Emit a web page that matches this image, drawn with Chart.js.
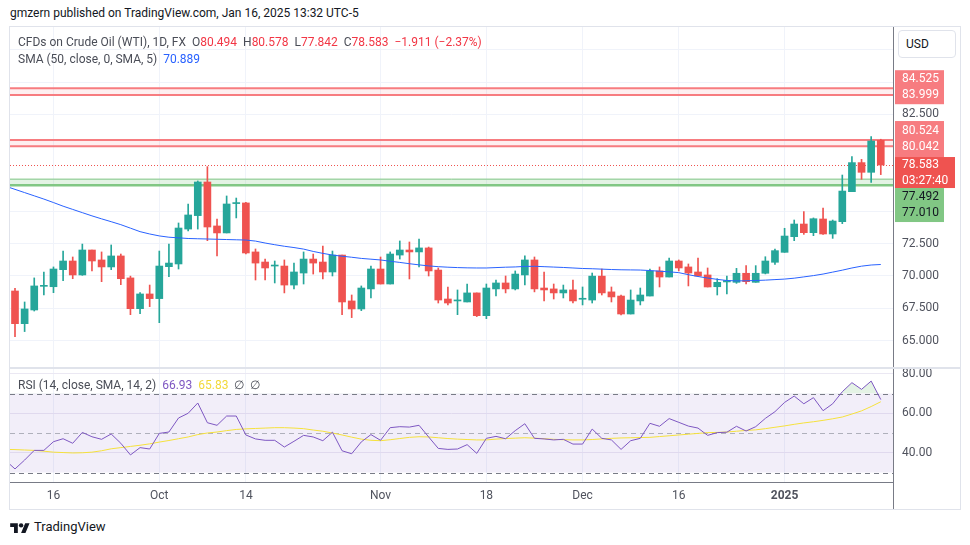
<!DOCTYPE html>
<html>
<head>
<meta charset="utf-8">
<script src="https://cdn.jsdelivr.net/npm/chart.js@4.4.1/dist/chart.umd.min.js"></script>
<style>
  body { margin:0; width:970px; height:545px; background:#fff; position:relative; overflow:hidden;
         font-family: Roboto, "Noto Sans", sans-serif; color:#131722; }
  .abs { position:absolute; white-space:pre; }
  #title { left:10px; top:6px; font-size:12px; line-height:14px; color:#131722; }
  #frame { left:9px; top:26px; width:950px; height:482px; border:1px solid #e0e3eb; }
  #sep { left:10px; top:367px; width:950px; height:2px; background:#e0e3eb; }
  #axisTail { left:893px; top:482px; width:1px; height:27px; background:#787b86; }
  canvas { position:absolute; left:10px; }
  #price { top:27px; }
  #rsi { top:367px; }
  .leg { font-size:12px; line-height:14px; color:#4a4d57; z-index:2; }
  .red { color:#f23645; } .blue { color:#2962ff; } .purple { color:#7e57c2; } .yellow { color:#f2d93a; }
  #usd { left:898px; top:30px; width:56px; height:26px; border:1px solid #e0e3eb; border-radius:4px;
         font-size:12px; line-height:26px; text-indent:7px; color:#131722; background:#fff; z-index:2; }
  #logo { left:10px; top:519px; font-size:13px; line-height:16px; color:#131722; display:flex; align-items:center; }
</style>
</head>
<body>
<div class="abs" id="title">gmzern published on TradingView.com, Jan 16, 2025 13:32 UTC-5</div>
<div class="abs" id="frame"></div>
<canvas id="price" width="950" height="340"></canvas>
<canvas id="rsi" width="950" height="142"></canvas>
<div class="abs" id="sep"></div>
<div class="abs" id="axisTail"></div>
<div class="abs leg" style="left:18px;top:35px">CFDs on Crude Oil (WTI), 1D, FX  O<span class="red">80.494</span>  H<span class="red">80.578</span>  L<span class="red">77.842</span>  C<span class="red">78.583</span>  <span class="red">−1.911 (−2.37%)</span></div>
<div class="abs leg" style="left:18px;top:52px">SMA (50, close, 0, SMA, 5)  <span class="blue">70.889</span></div>
<div class="abs leg" style="left:18px;top:378px">RSI (14, close, SMA, 14, 2)  <span class="purple">66.93</span>  <span class="yellow">65.83</span>  ∅  ∅</div>
<div class="abs" id="usd">USD</div>
<div class="abs" id="logo"><svg width="20" height="12" viewBox="0 0 36 22"><path d="M14 22H7V11H0V4h14v18zM28 22h-8l7.5-18h8L28 22z" fill="#131722"/><circle cx="20" cy="8" r="4" fill="#131722"/></svg><span style="margin-left:4px">TradingView</span></div>

<script>
// daily bars, Sep 9 2024 .. Jan 16 2025 (Sep 9 sits just left of the visible range)
const dates = [
  'Sep 9',
  'Sep 10','Sep 11','Sep 12','Sep 13','Sep 16','Sep 17','Sep 18','Sep 19','Sep 20','Sep 23',
  'Sep 24','Sep 25','Sep 26','Sep 27','Sep 30','Oct 1','Oct 2','Oct 3','Oct 4','Oct 7',
  'Oct 8','Oct 9','Oct 10','Oct 11','Oct 14','Oct 15','Oct 16','Oct 17','Oct 18','Oct 21',
  'Oct 22','Oct 23','Oct 24','Oct 25','Oct 28','Oct 29','Oct 30','Oct 31','Nov 1','Nov 4',
  'Nov 5','Nov 6','Nov 7','Nov 8','Nov 11','Nov 12','Nov 13','Nov 14','Nov 15','Nov 18',
  'Nov 19','Nov 20','Nov 21','Nov 22','Nov 25','Nov 26','Nov 27','Nov 28','Nov 29','Dec 2',
  'Dec 3','Dec 4','Dec 5','Dec 6','Dec 9','Dec 10','Dec 11','Dec 12','Dec 13','Dec 16',
  'Dec 17','Dec 18','Dec 19','Dec 20','Dec 23','Dec 24','Dec 26','Dec 27','Dec 30','Dec 31',
  'Jan 2','Jan 3','Jan 6','Jan 7','Jan 8','Jan 9','Jan 10','Jan 13','Jan 14','Jan 15','Jan 16'
];
const openP = [
  67.70,
  68.84,66.31,67.37,69.20,69.17,70.49,71.16,70.08,72.01,71.24,
  70.70,71.55,69.85,67.47,68.61,68.25,70.72,70.93,73.63,74.67,
  77.27,73.87,73.33,75.60,75.65,71.86,71.08,70.77,70.77,69.30,
  70.23,71.31,71.08,70.31,71.62,68.07,67.45,69.00,70.54,69.38,
  71.62,72.01,71.86,72.17,70.46,68.22,68.07,67.99,68.69,66.93,
  69.00,69.46,69.00,70.08,71.24,69.07,69.00,68.69,68.92,68.20,
  68.14,69.99,68.77,68.45,67.06,68.07,68.45,70.39,69.92,71.16,
  70.70,70.31,70.08,69.17,69.54,69.51,70.21,69.51,70.21,71.06,
  71.83,73.04,74.02,73.35,74.41,73.25,74.20,76.52,78.77,78.02,80.494
];
const highP = [
  69.00,
  69.05,67.99,69.85,70.31,70.70,71.93,71.47,72.47,72.01,71.86,
  72.40,71.70,69.99,68.71,69.30,71.93,72.47,74.10,75.57,77.35,
  78.46,74.41,76.19,76.03,75.70,72.09,71.31,71.16,71.24,71.00,
  71.86,71.70,72.32,71.93,71.62,68.53,69.23,70.77,71.47,71.86,
  72.71,72.63,72.86,72.24,70.62,69.15,68.92,69.38,68.69,69.38,
  69.69,70.00,70.39,71.55,71.47,70.31,69.38,69.30,69.69,69.15,
  70.23,70.54,69.15,68.53,68.92,69.07,70.54,70.70,71.39,71.24,
  70.93,71.39,70.62,69.79,70.00,70.59,70.80,70.80,71.49,72.09,
  73.69,74.33,74.98,74.49,75.26,74.33,77.81,79.23,79.02,80.78,80.578
];
const lowP = [
  67.40,
  65.31,65.70,67.29,68.53,68.71,69.64,69.79,70.05,70.39,69.56,
  70.49,69.33,67.01,67.09,67.63,66.39,69.95,70.54,73.48,73.63,
  72.73,71.55,73.33,74.49,71.70,69.69,69.69,69.46,68.69,69.00,
  69.38,70.15,69.77,70.00,67.01,66.78,67.32,68.30,69.38,69.38,
  71.31,69.77,70.70,70.00,67.91,67.76,67.01,67.99,66.86,66.70,
  68.45,68.69,68.92,69.30,68.77,68.07,68.22,68.30,67.91,67.76,
  67.91,68.53,67.99,66.98,67.06,67.76,68.45,69.15,69.92,70.39,
  69.23,70.00,69.15,68.53,68.61,69.43,69.38,69.51,70.16,70.90,
  71.83,72.73,73.22,73.12,73.22,72.91,74.05,76.52,77.48,77.24,77.842
];
const closeP = [
  68.70,
  66.31,67.45,69.23,69.25,70.54,71.16,70.08,72.01,71.16,70.70,
  71.55,69.79,67.47,68.61,68.25,70.77,71.00,73.71,74.72,77.27,
  73.79,73.33,75.57,75.65,71.78,71.00,70.62,70.80,69.30,70.31,
  71.31,71.00,70.31,71.62,67.99,67.45,69.07,70.54,69.38,71.70,
  72.01,71.86,72.17,70.39,68.14,67.91,68.12,68.69,66.93,69.07,
  69.46,69.00,70.15,71.24,69.00,68.92,68.69,68.92,68.07,68.23,
  69.99,68.69,68.38,67.06,68.14,68.53,70.39,69.92,71.16,70.62,
  70.23,70.00,69.15,69.51,69.65,70.21,69.56,70.21,71.16,71.96,
  73.09,74.02,73.35,74.43,73.25,74.25,76.57,78.77,78.02,80.44,78.583
];
const sma50 = [
  76.95,
  76.70,76.45,76.20,75.95,75.68,75.40,75.15,74.90,74.65,74.42,
  74.20,73.97,73.70,73.43,73.25,73.10,73.00,72.95,72.90,72.88,
  72.86,72.84,72.82,72.80,72.78,72.70,72.55,72.42,72.30,72.20,
  72.08,71.90,71.75,71.62,71.53,71.45,71.36,71.30,71.24,71.14,
  71.05,70.95,70.86,70.78,70.72,70.68,70.65,70.63,70.62,70.62,
  70.65,70.68,70.70,70.74,70.75,70.72,70.69,70.66,70.62,70.58,
  70.56,70.53,70.50,70.48,70.47,70.46,70.42,70.37,70.32,70.26,
  70.10,69.96,69.84,69.74,69.65,69.62,69.63,69.65,69.68,69.72,
  69.76,69.83,69.93,70.03,70.15,70.30,70.45,70.62,70.76,70.85,70.889
];
const rsi14 = [
  36.2,
  31.8,36.3,41.2,41.2,45.6,47.1,44.8,50.3,48.1,46.8,
  49.5,44.8,38.9,42.6,41.9,49.8,50.5,57.6,60.0,65.2,
  55.2,53.9,58.6,58.6,49.0,47.0,46.3,46.3,42.9,45.8,
  48.8,48.0,46.1,50.4,41.0,39.5,45.5,49.2,46.3,52.7,
  53.2,53.0,53.9,48.0,42.2,41.7,41.9,44.1,39.7,47.3,
  48.3,47.1,51.2,54.7,47.3,47.0,46.5,46.8,44.4,44.4,
  52.0,47.3,46.5,41.7,46.1,47.3,54.9,53.4,57.3,55.4,
  53.5,52.5,48.8,50.2,50.4,53.4,51.0,53.2,57.4,60.8,
  65.5,68.7,64.8,67.9,61.3,64.8,70.9,75.5,72.1,76.3,66.93
];
const rsiMa = [
  41.7,
  41.6,41.4,41.2,40.8,40.3,40.1,39.9,40.0,40.3,41.0,
  42.0,42.6,43.2,43.8,44.5,45.4,46.2,47.1,48.0,49.2,
  50.0,50.5,51.2,51.8,52.1,52.3,52.5,52.7,52.7,52.5,
  52.2,51.5,50.9,50.0,49.0,47.9,46.9,46.3,46.1,46.6,
  47.2,47.8,48.1,48.0,47.6,47.2,46.9,46.7,46.5,46.5,
  46.9,47.2,47.4,47.6,47.4,47.1,46.8,46.6,46.5,46.5,
  46.7,47.0,47.3,47.5,47.6,47.7,47.8,48.2,48.6,49.0,
  49.4,49.8,50.2,50.3,50.5,50.9,51.3,51.6,52.2,52.9,
  53.6,54.4,55.1,55.7,56.4,57.2,58.1,59.6,61.2,63.4,65.83
];

// time axis labels (bar index -> text)
const tickIndex = [5, 16, 25, 39, 50, 60, 70, 81];
const tickText  = ['16', 'Oct', '14', 'Nov', '18', 'Dec', '16', '2025'];

// visible bar window
const xMin = 0.48, xMax = 92.27;

// price scale ticks, and the ones left visible (others sit under the level tags)
const priceTicks = [65, 67.5, 70, 72.5, 75, 77.5, 80, 82.5, 85, 87.5];
const priceShown = [65, 67.5, 70, 72.5, 82.5];
const rsiTicks = [30, 40, 50, 60, 70, 80];
const rsiShown = [40, 60, 80];

// drawn support / resistance zones
const zoneHigh = [84.525, 80.524, 77.492];
const zoneLow  = [83.999, 80.042, 77.010];
const countdown = '03:27:40';

const idx = dates.map((d, i) => i);
const candleColor = idx.map(i => closeP[i] >= openP[i] ? '#26a69a' : '#ef5350');
const lastClose = closeP[closeP.length - 1];
const axisFont = { size: 12, family: 'Roboto' };

const zonePlugin = {
  id: 'zones',
  beforeDatasetsDraw(chart) {
    const { ctx, chartArea: a, scales: { y } } = chart;
    ctx.save();
    const styles = [
      { fill: 'rgba(242,54,69,0.08)', top: ['#f77c80', 2], bot: ['#f77c80', 2] },
      { fill: 'rgba(242,54,69,0.08)', top: ['#f77c80', 2], bot: ['#f77c80', 2] },
      { fill: 'rgba(129,199,132,0.22)', top: ['#81c784', 1], bot: ['#81c784', 2.5] }
    ];
    zoneHigh.forEach((hv, k) => {
      const y1 = y.getPixelForValue(hv), y2 = y.getPixelForValue(zoneLow[k]);
      const s = styles[k];
      ctx.fillStyle = s.fill;
      ctx.fillRect(a.left, y1, a.right - a.left, y2 - y1);
      [[y1, s.top], [y2, s.bot]].forEach(([yy, st]) => {
        ctx.strokeStyle = st[0];
        ctx.lineWidth = st[1];
        ctx.beginPath();
        ctx.moveTo(a.left, yy);
        ctx.lineTo(a.right, yy);
        ctx.stroke();
      });
    });
    // last price line
    const yc = Math.round(y.getPixelForValue(lastClose)) + 0.5;
    ctx.strokeStyle = '#ef5350';
    ctx.lineWidth = 1;
    ctx.setLineDash([1, 2]);
    ctx.beginPath();
    ctx.moveTo(a.left, yc);
    ctx.lineTo(a.right, yc);
    ctx.stroke();
    ctx.restore();
  }
};

const tagPlugin = {
  id: 'tags',
  afterDraw(chart) {
    const { ctx, chartArea: a, scales: { y } } = chart;
    const x0 = a.right + 2;
    const lastTop = y.getPixelForValue(lastClose) - 8;
    const tags = [
      { top: y.getPixelForValue(zoneHigh[0]) - 18, h: 34, w: 49, bg: '#f77c80', fg: '#ffffff',
        lines: [zoneHigh[0].toFixed(3), zoneLow[0].toFixed(3)] },
      { top: lastTop - 36, h: 36, w: 49, bg: '#f77c80', fg: '#ffffff',
        lines: [zoneHigh[1].toFixed(3), zoneLow[1].toFixed(3)] },
      { top: lastTop, h: 31, w: 60, bg: '#ef5350', fg: '#ffffff',
        lines: [lastClose.toFixed(3), countdown] },
      { top: lastTop + 31, h: 34, w: 49, bg: '#81c784', fg: '#131722',
        lines: [zoneHigh[2].toFixed(3), zoneLow[2].toFixed(3)] }
    ];
    ctx.save();
    ctx.font = '12px Roboto';
    ctx.textBaseline = 'middle';
    ctx.textAlign = 'left';
    tags.forEach(t => {
      ctx.fillStyle = t.bg;
      ctx.fillRect(x0, t.top, t.w, t.h);
      ctx.fillStyle = t.fg;
      const mid = t.top + t.h / 2;
      ctx.fillText(t.lines[0], x0 + 7, mid - 8);
      ctx.fillText(t.lines[1], x0 + 7, mid + 8);
    });
    ctx.restore();
  }
};

const rsiBandPlugin = {
  id: 'rsiBand',
  beforeDatasetsDraw(chart) {
    const { ctx, chartArea: a, scales: { y } } = chart;
    ctx.save();
    const y70 = y.getPixelForValue(70), y30 = y.getPixelForValue(30);
    ctx.fillStyle = 'rgba(126,87,194,0.1)';
    ctx.fillRect(a.left, y70, a.right - a.left, y30 - y70);
    [[70, '#787b86'], [50, 'rgba(120,123,134,0.55)'], [30, '#787b86']].forEach(([v, c]) => {
      const yy = Math.round(y.getPixelForValue(v)) + 0.5;
      ctx.strokeStyle = c;
      ctx.lineWidth = 1;
      ctx.setLineDash([5, 4]);
      ctx.beginPath();
      ctx.moveTo(a.left, yy);
      ctx.lineTo(a.right, yy);
      ctx.stroke();
    });
    ctx.restore();
  }
};

const noPad = s => { s.paddingTop = 0; s.paddingBottom = 0; s.paddingLeft = 0; s.paddingRight = 0; };

new Chart(document.getElementById('price'), {
  type: 'bar',
  data: {
    datasets: [
      { type: 'line', label: 'SMA 50', data: idx.map(i => ({ x: i, y: sma50[i] })),
        borderColor: '#2962ff', borderWidth: 1, pointRadius: 0, tension: 0, order: 0 },
      { label: 'wick', data: idx.map(i => ({ x: i, y: [lowP[i], highP[i]] })),
        backgroundColor: candleColor, barThickness: 1, grouped: false, order: 2 },
      { label: 'body', data: idx.map(i => ({ x: i, y: [openP[i], closeP[i]] })),
        backgroundColor: candleColor, barThickness: 7, grouped: false, minBarLength: 1, order: 1 }
    ]
  },
  options: {
    responsive: false, animation: false, devicePixelRatio: 1,
    layout: { padding: 0 },
    plugins: { legend: { display: false }, tooltip: { enabled: false } },
    scales: {
      x: {
        type: 'linear', min: xMin, max: xMax, offset: false,
        afterBuildTicks: s => { s.ticks = tickIndex.map(v => ({ value: v })); },
        ticks: { display: false },
        grid: { color: '#f0f3fa', drawTicks: false, offset: false },
        border: { display: false },
        afterFit: s => { s.height = 0; noPad(s); }
      },
      y: {
        position: 'right', min: 62.96, max: 89.26,
        afterBuildTicks: s => { s.ticks = priceTicks.map(v => ({ value: v })); },
        ticks: { callback: v => priceShown.includes(v) ? v.toFixed(3) : '',
                 color: '#50535e', font: axisFont, padding: 9 },
        grid: { color: '#f0f3fa', drawTicks: false },
        border: { color: '#787b86' },
        afterFit: s => { s.width = 67; noPad(s); }
      }
    }
  },
  plugins: [zonePlugin, tagPlugin]
});

new Chart(document.getElementById('rsi'), {
  type: 'line',
  data: {
    datasets: [
      { label: 'RSI', data: idx.map(i => ({ x: i, y: rsi14[i] })),
        borderColor: '#7e57c2', borderWidth: 1, pointRadius: 0, tension: 0,
        fill: { target: { value: 70 }, above: 'rgba(76,175,80,0.15)', below: 'rgba(0,0,0,0)' } },
      { label: 'RSI MA', data: idx.map(i => ({ x: i, y: rsiMa[i] })),
        borderColor: '#f5e13c', borderWidth: 1, pointRadius: 0, tension: 0, fill: false }
    ]
  },
  options: {
    responsive: false, animation: false, devicePixelRatio: 1,
    layout: { padding: { top: 2 } },
    plugins: { legend: { display: false }, tooltip: { enabled: false } },
    scales: {
      x: {
        type: 'linear', min: xMin, max: xMax,
        afterBuildTicks: s => { s.ticks = tickIndex.map(v => ({ value: v })); },
        ticks: {
          autoSkip: false, maxRotation: 0, padding: 7, color: '#50535e',
          callback: v => tickText[tickIndex.indexOf(v)],
          font: c => ({ size: 12, family: 'Roboto', weight: tickText[c.index] === '2025' ? 'bold' : 'normal' })
        },
        grid: { color: '#f0f3fa', drawTicks: false },
        border: { color: '#787b86' },
        afterFit: s => { s.height = 27; noPad(s); }
      },
      y: {
        position: 'right', min: 25.19, max: 82.41,
        afterBuildTicks: s => { s.ticks = rsiTicks.map(v => ({ value: v })); },
        ticks: { callback: v => rsiShown.includes(v) ? v.toFixed(2) : '',
                 color: '#50535e', font: axisFont, padding: 9 },
        grid: { color: c => rsiShown.includes(c.tick.value) ? '#ebe8f3' : 'rgba(0,0,0,0)', drawTicks: false },
        border: { color: '#787b86' },
        afterFit: s => { s.width = 67; noPad(s); }
      }
    }
  },
  plugins: [rsiBandPlugin]
});
</script>
</body>
</html>
